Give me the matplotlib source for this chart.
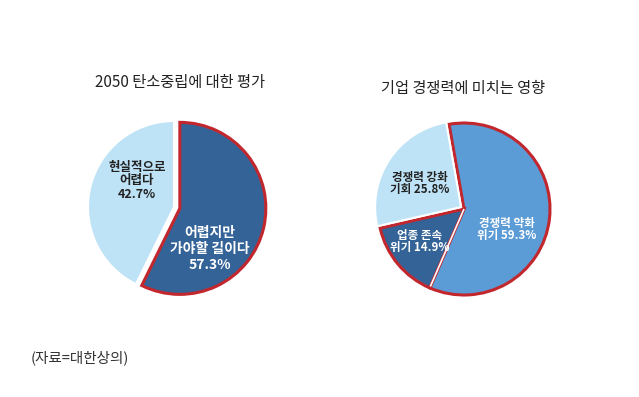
import matplotlib
matplotlib.use("Agg")
import matplotlib.pyplot as plt
import numpy as np

plt.rcParams['font.family'] = ['Noto Sans CJK KR', 'DejaVu Sans']

W, H = 639, 397

# Data
left_title = "2050 탄소중립에 대한 평가"
left_labels = ["어렵지만\n가야할 길이다", "현실적으로\n어렵다"]
left_values = [57.3, 42.7]

right_title = "기업 경쟁력에 미치는 영향"
right_labels = ["경쟁력 약화\n위기", "업종 존속\n위기", "경쟁력 강화\n기회"]
right_values = [59.3, 14.9, 25.8]

source = "(자료=대한상의)"

RED = "#c1272d"
LIGHT = "#bee3f6"
DARK = "#346398"
MID = "#5b9bd6"

fig = plt.figure(figsize=(W / 100, H / 100), dpi=100)
ax = fig.add_axes([0, 0, 1, 1])

def fy(y):
    return H - y

# Left pie (explode offsets are in pixel/data units here)
lw, _ = ax.pie(left_values, colors=[DARK, LIGHT], startangle=90, counterclock=False,
               center=(174, fy(207)), radius=86, explode=[6, 0],
               wedgeprops=dict(linewidth=2))
lw[0].set_edgecolor(RED)
lw[0].set_linewidth(2.2)
lw[1].set_edgecolor("white")
lw[1].set_linewidth(1.5)

# Right pie
rw, _ = ax.pie(right_values, colors=[MID, DARK, LIGHT], startangle=100, counterclock=False,
               center=(464, fy(209)), radius=86, explode=[0, 0, 3.5],
               wedgeprops=dict(linewidth=2))
rw[0].set_edgecolor(RED); rw[0].set_linewidth(2.2)
rw[1].set_edgecolor(RED); rw[1].set_linewidth(2.2)
rw[2].set_edgecolor("white"); rw[2].set_linewidth(1.5)
# white boundary between the two red-edged wedges
th = np.deg2rad(rw[0].theta1)
cx, cy = rw[0].center
r = rw[0].r
ax.plot([cx, cx + (r - 1.5) * np.cos(th)], [cy, cy + (r - 1.5) * np.sin(th)],
        color="white", lw=1.2, solid_capstyle="butt", zorder=5)

ax.set_xlim(0, W)
ax.set_ylim(0, H)
ax.set_aspect('auto')
ax.axis('off')

# Titles
ax.text(180, fy(83), left_title, ha='center', va='center', fontsize=11,
        fontweight='light', color="#222222")
ax.text(463, fy(88), right_title, ha='center', va='center', fontsize=11,
        fontweight='light', color="#222222")


def lines_text(x, y, lines, color, fs, gap):
    for i, ln in enumerate(lines):
        ax.text(x, fy(y + i * gap), ln, ha='center', va='center', fontsize=fs,
                fontweight='bold', color=color, zorder=6)


# Left labels
lines_text(210, 233, left_labels[0].split("\n") + [f"{left_values[0]}%"], "white", 10, 16)
lines_text(137, 167, left_labels[1].split("\n") + [f"{left_values[1]}%"], "#222222", 9, 13.5)

# Right labels
rl0 = right_labels[0].split("\n")
lines_text(507, 223, [rl0[0], f"{rl0[1]} {right_values[0]}%"], "white", 8.3, 12.5)
rl1 = right_labels[1].split("\n")
lines_text(420, 235, [rl1[0], f"{rl1[1]} {right_values[1]}%"], "white", 8.3, 12.5)
rl2 = right_labels[2].split("\n")
lines_text(420, 177, [rl2[0], f"{rl2[1]} {right_values[2]}%"], "#222222", 8.3, 12.5)

# Source
ax.text(31, fy(358), source, ha='left', va='center', fontsize=10.5,
        fontweight='light', color="#333333")

fig.savefig("out.png", dpi=100)
